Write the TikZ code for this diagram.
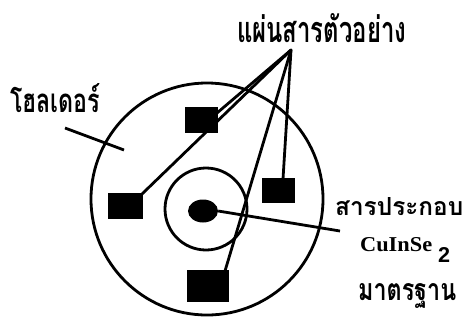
\documentclass[tikz,border=0pt]{standalone}
\usepackage{fontspec}
\usetikzlibrary{shapes.geometric}
\setmainfont{Liberation Serif}
\newsavebox{\measbox}
\newdimen\measW
\newdimen\measH
% set #5 in font #1 (features #2), bold, so that it is #3 pt wide and #4 pt high
\newcommand{\fittext}[5]{%
  \begingroup
  \fontspec[#2]{#1}\bfseries\fontsize{10}{12}\selectfont
  \sbox{\measbox}{#5}%
  \measW=\wd\measbox
  \measH=\ht\measbox
  \pgfmathsetmacro\fsy{#4/\measH}%
  \pgfmathsetmacro\fsx{#3/\measW}%
  \pgfmathsetmacro\fstr{\fsx/\fsy}%
  \pgfmathsetmacro\fsz{10*\fsy}%
  \edef\next{\noexpand\fontspec[#2,FakeStretch=\fstr]{#1}}\next
  \bfseries\fontsize{\fsz}{\fsz}\selectfont #5%
  \endgroup}
\begin{document}
\begin{tikzpicture}[x=1pt,y=-1pt,
  ln/.style={line width=2.8pt},
  lbl/.style={inner sep=0pt,anchor=base west},
  sq/.style={fill=black,draw=none}]
\useasboundingbox (0,0) rectangle (468,322);
% holder circles
\draw[ln] (207,199) circle[radius=116];
\draw[ln] (206,209) circle[radius=41];
\node[fill=black,ellipse,minimum width=30pt,minimum height=23pt,inner sep=0pt] (std) at (203,211) {};
% sample squares
\path[sq] (185,107) rectangle (218,133);
\path[sq] (108,193) rectangle (143,219);
\path[sq] (262,178) rectangle (295,203);
\path[sq] (187,270) rectangle (229,302);
\coordinate (apex) at (291,50);
\coordinate (sqT) at (217,113);
\coordinate (sqL) at (142,194);
\coordinate (sqR) at (283,179);
\coordinate (sqB) at (225,271);
\draw[ln,line cap=round] (apex) -- (sqT);
\draw[ln,line cap=round] (apex) -- (sqL);
\draw[ln,line cap=round] (apex) -- (sqR);
\draw[ln,line cap=round] (apex) -- (sqB);
% labels
\node[lbl] (lsample) at (237,42) {\fittext{Loma}{Script=Thai}{169}{29}{แผ่นสารตัวอย่าง}};
\node[lbl] (lholder) at (10,112) {\fittext{Loma}{Script=Thai}{90}{29}{โฮลเดอร์}};
\node[lbl] (lcomp) at (335,215) {\fittext{Loma}{Script=Thai}{128}{18}{สารประกอบ}};
\node[lbl] (lcis) at (360,251) {\fittext{Liberation Serif}{}{72}{14}{CuInSe}};
\node[lbl] (ltwo) at (438,262) {\fittext{Liberation Sans}{}{12}{15}{2}};
\node[lbl] (lstd) at (358,300) {\fittext{Loma}{Script=Thai}{98}{17}{มาตรฐาน}};
\coordinate (hA) at (65,128);
\coordinate (hB) at (124,150);
\draw[ln] (hA) -- (hB);
\coordinate (cE) at (340,231);
\draw[ln] (std.east) -- (cE);
\end{tikzpicture}
\end{document}
